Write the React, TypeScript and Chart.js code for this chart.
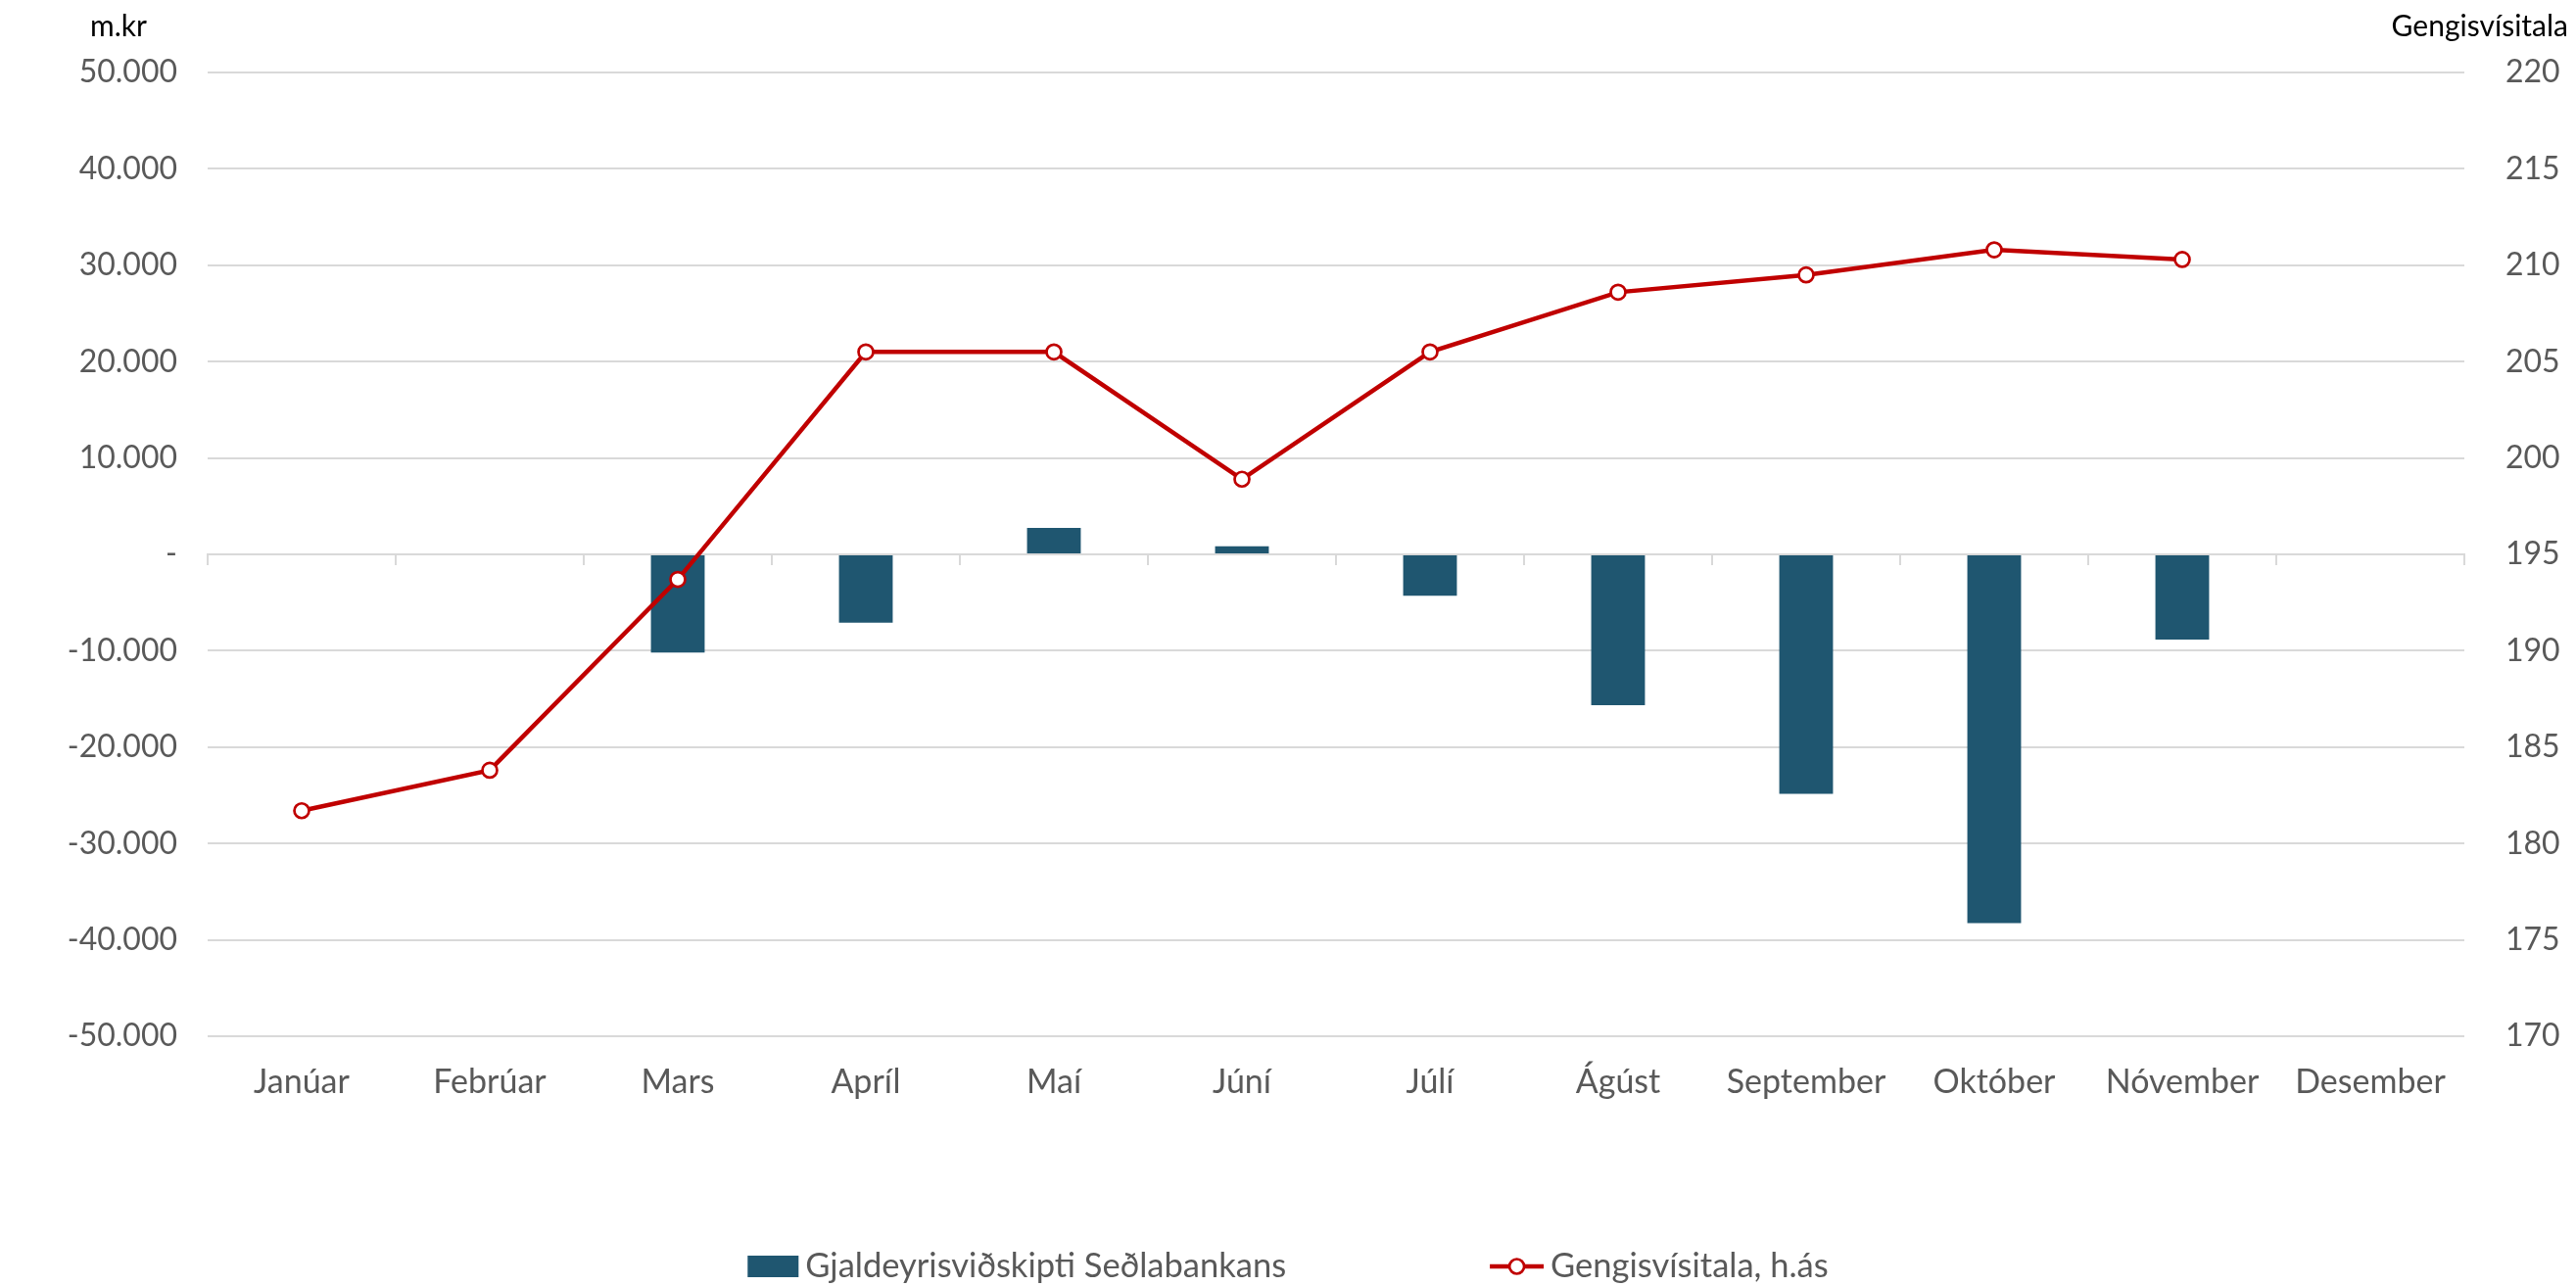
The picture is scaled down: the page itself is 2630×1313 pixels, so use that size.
import React, { useEffect, useRef } from "react";
import { Chart, registerables } from "chart.js";

Chart.register(...registerables);

const months = [
  "Janúar", "Febrúar", "Mars", "Apríl", "Maí", "Júní",
  "Júlí", "Ágúst", "September", "Október", "Nóvember", "Desember",
];

const fxTrades: (number | null)[] = [
  null, null, -10200, -7100, 2750, 850,
  -4300, -15650, -24850, -38250, -8850, null,
];

const exchangeIndex: (number | null)[] = [
  181.7, 183.8, 193.7, 205.5, 205.5, 198.9,
  205.5, 208.6, 209.5, 210.8, 210.3, null,
];

const barLabel = "Gjaldeyrisviðskipti Seðlabankans";
const lineLabel = "Gengisvísitala, h.ás";
const leftTitle = "m.kr";
const rightTitle = "Gengisvísitala";

const W = 2630;
const H = 1313;
const FONT = "Lato";
const BAR_COLOR = "#1F5670";
const LINE_COLOR = "#C00000";
const GRID_COLOR = "#d9d9d9";
const TEXT_COLOR = "#595959";

const fmtThousands = (v: number) => {
  if (v === 0) return "-";
  const s = Math.abs(v).toFixed(0).replace(/\B(?=(\d{3})+(?!\d))/g, ".");
  return (v < 0 ? "-" : "") + s;
};

const overlayPlugin = {
  id: "overlay",
  afterDraw(chart: any) {
    const ctx = chart.ctx as CanvasRenderingContext2D;
    ctx.save();
    // axis titles
    ctx.fillStyle = "#000000";
    ctx.font = `30px ${FONT}`;
    ctx.textBaseline = "alphabetic";
    ctx.textAlign = "center";
    ctx.fillText(leftTitle, 121, 37);
    ctx.textAlign = "right";
    ctx.fillText(rightTitle, 2622, 37);

    // legend
    const ds0 = chart.data.datasets[0];
    const ds1 = chart.data.datasets[1];
    ctx.font = `34.5px ${FONT}`;
    const t1 = ctx.measureText(ds0.label).width;
    const t2 = ctx.measureText(ds1.label).width;
    const boxW = 52, boxH = 22, lineW = 55, gapText = 7, gapItems = 208;
    const total = boxW + gapText + t1 + gapItems + lineW + gapText + t2;
    let x = (W - total) / 2;
    const cy = 1293;
    ctx.fillStyle = ds0.backgroundColor;
    ctx.fillRect(x, cy - boxH / 2, boxW, boxH);
    x += boxW + gapText;
    ctx.fillStyle = TEXT_COLOR;
    ctx.textAlign = "left";
    ctx.textBaseline = "middle";
    ctx.fillText(ds0.label, x, cy);
    x += t1 + gapItems;
    ctx.strokeStyle = ds1.borderColor;
    ctx.lineWidth = 4.5;
    ctx.beginPath();
    ctx.moveTo(x, cy);
    ctx.lineTo(x + lineW, cy);
    ctx.stroke();
    ctx.beginPath();
    ctx.arc(x + lineW / 2, cy, 7.5, 0, Math.PI * 2);
    ctx.fillStyle = "#ffffff";
    ctx.fill();
    ctx.lineWidth = 2.7;
    ctx.stroke();
    x += lineW + gapText;
    ctx.fillStyle = TEXT_COLOR;
    ctx.fillText(ds1.label, x, cy);
    ctx.restore();
  },
};

export default function App() {
  const canvasRef = useRef<HTMLCanvasElement | null>(null);

  useEffect(() => {
    if (!canvasRef.current) return;
    const chart = new Chart(canvasRef.current, {
      type: "bar",
      data: {
        labels: months,
        datasets: [
          {
            type: "bar",
            label: barLabel,
            data: fxTrades,
            backgroundColor: BAR_COLOR,
            borderWidth: 0,
            yAxisID: "y",
            xAxisID: "x",
            categoryPercentage: 1,
            barPercentage: 0.2857,
            order: 2,
          } as any,
          {
            type: "line",
            label: lineLabel,
            data: exchangeIndex,
            borderColor: LINE_COLOR,
            backgroundColor: "#ffffff",
            borderWidth: 4.5,
            pointRadius: 7.5,
            pointBorderWidth: 2.7,
            pointBackgroundColor: "#ffffff",
            pointBorderColor: LINE_COLOR,
            tension: 0,
            yAxisID: "y1",
            xAxisID: "x",
            order: 1,
          } as any,
        ],
      },
      options: {
        responsive: false,
        animation: false,
        devicePixelRatio: 1,
        layout: { padding: { top: 74, left: 0, right: 0, bottom: 0 } },
        plugins: {
          legend: { display: false },
          tooltip: { enabled: false },
          title: { display: false },
        },
        scales: {
          x: {
            type: "category",
            position: "bottom",
            offset: true,
            grid: { display: false, drawTicks: false },
            border: { display: false },
            ticks: {
              color: TEXT_COLOR,
              font: { family: FONT, size: 34 },
              padding: 27,
              maxRotation: 0,
              autoSkip: false,
            },
            afterFit(scale: any) {
              scale.height = 255;
            },
          },
          xz: {
            type: "category",
            labels: months,
            position: { y: 0 } as any,
            offset: true,
            grid: {
              display: true,
              drawOnChartArea: false,
              drawTicks: true,
              tickLength: 10,
              color: GRID_COLOR,
              lineWidth: 2,
              offset: true,
            },
            border: { display: true, color: GRID_COLOR, width: 2 },
            ticks: { display: false },
          } as any,
          y: {
            type: "linear",
            position: "left",
            min: -50000,
            max: 50000,
            grid: {
              color: GRID_COLOR,
              lineWidth: 2,
              drawTicks: false,
            },
            border: { display: false },
            ticks: {
              stepSize: 10000,
              color: TEXT_COLOR,
              font: { family: FONT, size: 32 },
              padding: 31,
              callback: (v: any) => fmtThousands(Number(v)),
            },
            afterFit(scale: any) {
              scale.width = 212;
            },
          },
          y1: {
            type: "linear",
            position: "right",
            min: 170,
            max: 220,
            grid: { drawOnChartArea: false, drawTicks: false },
            border: { display: false },
            ticks: {
              stepSize: 5,
              color: TEXT_COLOR,
              font: { family: FONT, size: 32 },
              padding: 42,
            },
            afterFit(scale: any) {
              scale.width = 114;
            },
          },
        },
      },
      plugins: [overlayPlugin],
    });
    return () => chart.destroy();
  }, []);

  return (
    <div style={{ position: "absolute", left: 0, top: 0, width: W, height: H, background: "#ffffff" }}>
      <canvas ref={canvasRef} width={W} height={H} style={{ display: "block", width: W, height: H }} />
    </div>
  );
}
